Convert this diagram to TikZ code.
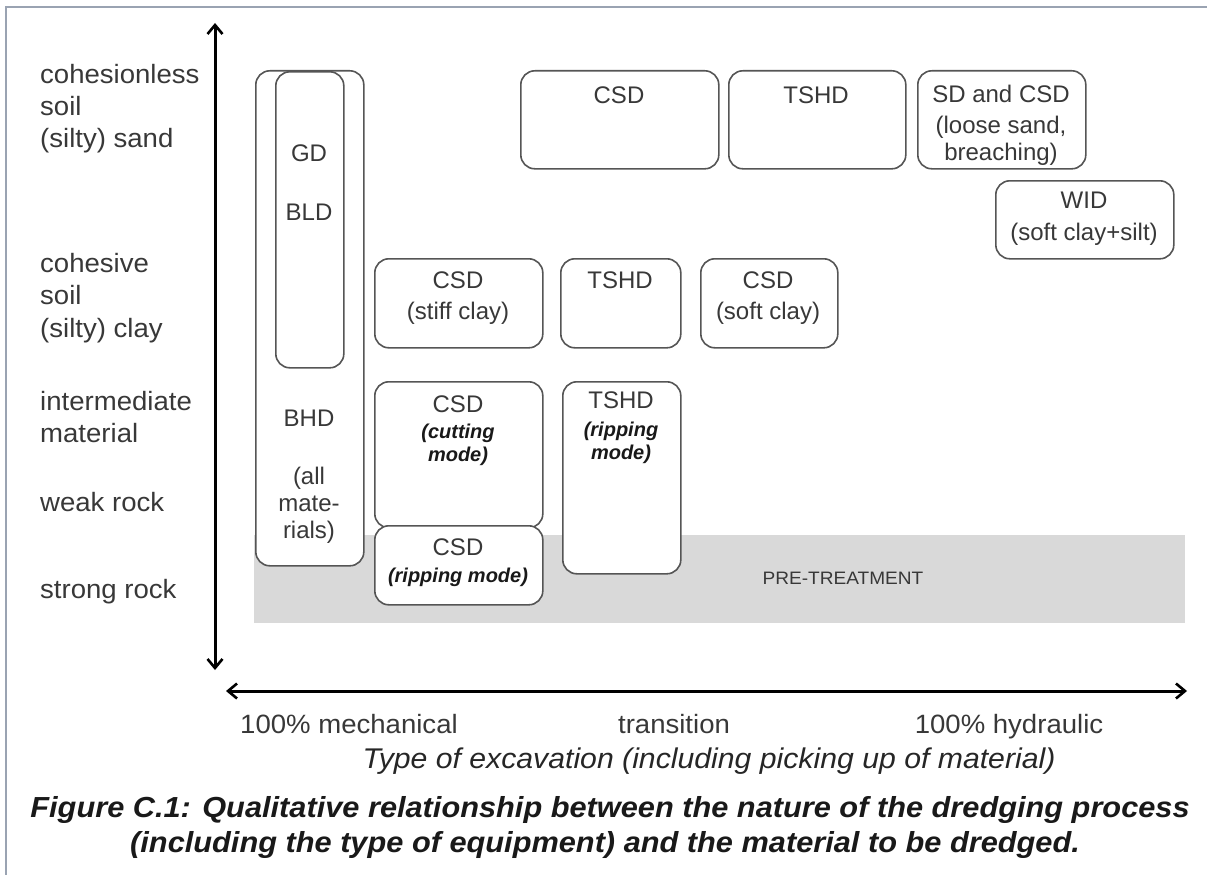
\documentclass[tikz,border=0pt]{standalone}
\usepackage{fontspec}
\setmainfont{Liberation Sans}
\newfontfamily\widefont{Liberation Sans}[FakeStretch=1.06]
\newfontfamily\lblfont{Liberation Sans}[FakeStretch=1.04]
\usetikzlibrary{arrows.meta}
\definecolor{boxgray}{HTML}{555555}
\definecolor{txtgray}{HTML}{383838}
\definecolor{pregray}{HTML}{D9D9D9}
\definecolor{framecol}{HTML}{9AA3B2}
\begin{document}
\begin{tikzpicture}[x=1pt,y=-1pt,
  box/.style={draw=boxgray, line width=1.6pt, fill=white, rounded corners=14pt, anchor=north west, inner sep=0pt},
  bt/.style={font=\fontsize{24}{28}\selectfont, text=txtgray, anchor=base, inner sep=0pt},
  mt/.style={font=\fontsize{20}{24}\selectfont\bfseries\itshape, text=black!90, anchor=base, inner sep=0pt},
  ylab/.style={font=\lblfont\fontsize{26.5}{32}\selectfont, text=txtgray, anchor=base west, inner sep=0pt},
  xlab/.style={font=\lblfont\fontsize{26.5}{32}\selectfont, text=txtgray, anchor=base, inner sep=0pt},
  captext/.style={font=\widefont\fontsize{29}{35}\selectfont\bfseries\itshape, text=black!90, anchor=base, inner sep=0pt},
  axis/.style={line width=3pt, {Straight Barb[length=9pt,width=15pt,line width=2.6pt]}-{Straight Barb[length=9pt,width=15pt,line width=2.6pt]}}
]
\useasboundingbox (0,0) rectangle (1210,875);
% frame
\draw[framecol, line width=1.5pt] (6,875) -- (6,7) -- (1207,7);

% pre-treatment band
\node[fill=pregray, anchor=north west, minimum width=931pt, minimum height=88pt, inner sep=0pt] (pre) at (254,535) {};
\node[font=\widefont\fontsize{18}{20}\selectfont, text=txtgray, anchor=base, inner sep=0pt] (pret) at (843,584) {PRE-TREATMENT};

% axes
\coordinate (ytop) at (215,23);
\coordinate (ybot) at (215,670);
\coordinate (xl) at (226,691);
\coordinate (xr) at (1187,691);
\draw[axis] (ybot) -- (ytop);
\draw[axis] (xl) -- (xr);

% left labels
\node[ylab] (l1) at (40,83) {cohesionless};
\node[ylab] (l2) at (40,115) {soil};
\node[ylab] (l3) at (40,147) {(silty) sand};
\node[ylab] (l4) at (40,272) {cohesive};
\node[ylab] (l5) at (40,304) {soil};
\node[ylab] (l6) at (40,337) {(silty) clay};
\node[ylab] (l7) at (40,410) {intermediate};
\node[ylab] (l8) at (40,442) {material};
\node[ylab] (l9) at (40,511) {weak rock};
\node[ylab] (l10) at (40,598) {strong rock};

% BHD / GD / BLD
\node[box, minimum width=108pt, minimum height=495pt] (bhd) at (255,70) {};
\node[box, minimum width=68pt, minimum height=296pt] (gd) at (275,71) {};
\node[bt] (gdt) at (309,161) {GD};
\node[bt] (bldt) at (309,220) {BLD};
\node[bt] (bhdt) at (309,426) {BHD};
\node[bt] (bhd1) at (309,484) {(all};
\node[bt] (bhd2) at (309,511) {mate-};
\node[bt] (bhd3) at (309,538) {rials)};

% top row
\node[box, minimum width=198pt, minimum height=98pt] (csdA) at (520,70) {};
\node[bt] (csdAt) at (619,103) {CSD};
\node[box, minimum width=177pt, minimum height=98pt] (tshdA) at (728,70) {};
\node[bt] (tshdAt) at (816,103) {TSHD};
\node[box, minimum width=168pt, minimum height=98pt] (sd) at (917,70) {};
\node[bt] (sd1) at (1001,102) {SD and CSD};
\node[bt] (sd2) at (1001,133) {(loose sand,};
\node[bt] (sd3) at (1001,160) {breaching)};
\node[box, minimum width=178pt, minimum height=78pt] (wid) at (995,180) {};
\node[bt] (wid1) at (1084,208) {WID};
\node[bt] (wid2) at (1084,240) {(soft clay+silt)};

% clay row
\node[box, minimum width=168pt, minimum height=89pt] (csdB) at (374,258) {};
\node[bt] (csdB1) at (458,288) {CSD};
\node[bt] (csdB2) at (458,319) {(stiff clay)};
\node[box, minimum width=120pt, minimum height=89pt] (tshdB) at (560,258) {};
\node[bt] (tshdBt) at (620,288) {TSHD};
\node[box, minimum width=137pt, minimum height=89pt] (csdC) at (700,258) {};
\node[bt] (csdC1) at (768,288) {CSD};
\node[bt] (csdC2) at (768,319) {(soft clay)};

% rock rows
\node[box, minimum width=168pt, minimum height=146pt] (csdD) at (374,381) {};
\node[bt] (csdD1) at (458,412) {CSD};
\node[mt] (csdD2) at (458,438) {(cutting};
\node[mt] (csdD3) at (458,461) {mode)};
\node[box, minimum width=168pt, minimum height=79pt] (csdE) at (374,525) {};
\node[bt] (csdE1) at (458,555) {CSD};
\node[mt] (csdE2) at (458,582) {(ripping mode)};
\node[box, minimum width=118pt, minimum height=192pt] (tshdC) at (562,381) {};
\node[bt] (tshdC1) at (621,408) {TSHD};
\node[mt] (tshdC2) at (621,436) {(ripping};
\node[mt] (tshdC3) at (621,459) {mode)};

% x labels
\node[xlab] (x1) at (349,733) {100\% mechanical};
\node[xlab] (x2) at (674,733) {transition};
\node[xlab] (x3) at (1009,733) {100\% hydraulic};
\node[font=\widefont\fontsize{28.5}{32}\selectfont\itshape, text=black!85, anchor=base, inner sep=0pt] (xt) at (709,768) {Type of excavation (including picking up of material)};

% caption
\node[captext] (c1) at (610,817) {Figure C.1: Qualitative relationship between the nature of the dredging process};
\node[captext] (c2) at (605,852) {(including the type of equipment) and the material to be dredged.};
\end{tikzpicture}
\end{document}
